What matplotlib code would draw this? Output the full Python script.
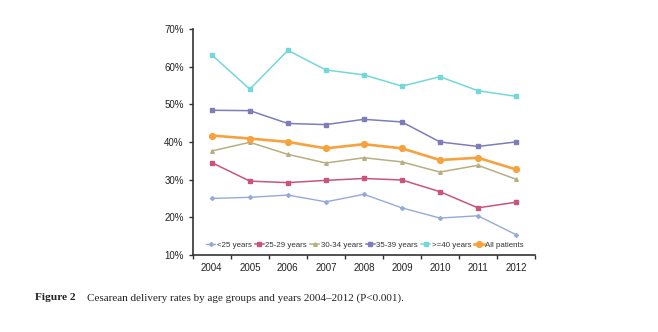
import matplotlib
matplotlib.use("Agg")
import matplotlib.pyplot as plt
from matplotlib.ticker import FuncFormatter, FixedLocator

years = ["2004", "2005", "2006", "2007", "2008", "2009", "2010", "2011", "2012"]
under25 = [25.0, 25.3, 25.9, 24.1, 26.1, 22.5, 19.8, 20.4, 15.4]
y25_29 = [34.5, 29.6, 29.2, 29.8, 30.3, 29.9, 26.8, 22.5, 24.0]
y30_34 = [37.6, 39.9, 36.7, 34.4, 35.8, 34.7, 32.0, 33.8, 30.1]
y35_39 = [48.4, 48.3, 44.9, 44.6, 46.0, 45.3, 40.0, 38.8, 40.0]
over40 = [63.1, 54.0, 64.3, 59.1, 57.8, 54.8, 57.3, 53.6, 52.1]
all_patients = [41.7, 40.9, 40.0, 38.3, 39.4, 38.3, 35.2, 35.8, 32.7]

labels = ["<25 years", "25-29 years", "30-34 years", "35-39 years", ">=40 years", "All patients"]

fig = plt.figure(figsize=(6.58, 3.32), dpi=100)
ax = fig.add_axes([0.293, 0.232, 0.520, 0.681])
x = list(range(len(years)))

styles = [
    (under25, "#93abd9", "D", 2.0, 1.0),
    (y25_29, "#c9557b", "s", 2.4, 1.1),
    (y30_34, "#b7ae82", "^", 2.6, 1.1),
    (y35_39, "#7e7dbb", "s", 2.4, 1.1),
    (over40, "#74d8da", "s", 2.4, 1.1),
    (all_patients, "#f6a23e", "o", 4.2, 1.9),
]
for (vals, c, m, ms, lw), lab in zip(styles, labels):
    ax.plot(x, vals, color=c, marker=m, markersize=ms, linewidth=lw, label=lab)

ax.set_xlim(-0.5, 8.5)
ax.set_ylim(10, 70)
ax.set_yticks([10, 20, 30, 40, 50, 60, 70])
ax.yaxis.set_major_formatter(FuncFormatter(lambda v, p: f"{int(v)}%"))
ax.set_xticks(x)
ax.set_xticklabels(years)
ax.xaxis.set_minor_locator(FixedLocator([i - 0.5 for i in range(len(years) + 1)]))
ax.tick_params(axis="x", which="major", length=0, labelsize=7, pad=6, colors="#222222")
ax.tick_params(axis="x", which="minor", length=3, direction="out", color="#333333", width=1)
ax.tick_params(axis="y", length=3, direction="out", labelsize=7, color="#333333", width=1, labelcolor="#222222")
for s in ["top", "right"]:
    ax.spines[s].set_visible(False)
for s in ["left", "bottom"]:
    ax.spines[s].set_color("#333333")
    ax.spines[s].set_linewidth(1.2)

for lab in ax.get_xticklabels() + ax.get_yticklabels():
    lab.set_family("Liberation Sans")

leg = ax.legend(loc="lower left", bbox_to_anchor=(0.02, 0.0), ncol=6, frameon=False,
                prop={"family": "Liberation Sans", "size": 5.7}, handlelength=1.15,
                handletextpad=0.2, columnspacing=0.4, borderaxespad=0.4)
for t in leg.get_texts():
    t.set_color("#333333")

fig.text(0.053, 0.095, "Figure 2", family="Liberation Serif", weight="bold", fontsize=8.2, color="#222222")
fig.text(0.132, 0.095, "Cesarean delivery rates by age groups and years 2004\u20132012 (P<0.001).",
         family="Liberation Serif", fontsize=8.0, color="#222222")

fig.savefig("out.png", dpi=100, facecolor="white")
